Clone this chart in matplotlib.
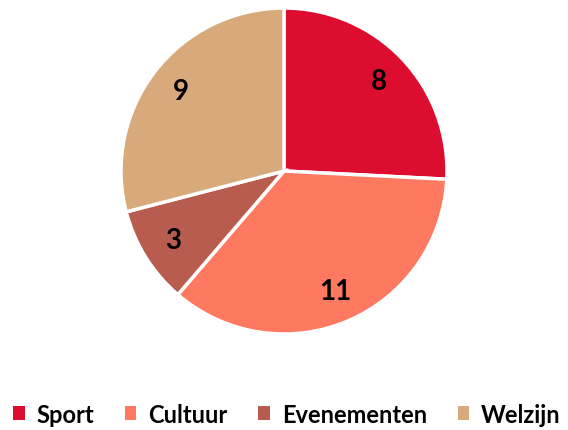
import matplotlib.pyplot as plt
from matplotlib.patches import Patch

categories = ["Sport", "Cultuur", "Evenementen", "Welzijn"]
values = [8, 11, 3, 9]
colors = ["#DC0D2E", "#FF7961", "#B85C50", "#D8A97A"]

plt.rcParams['font.family'] = ['Lato', 'DejaVu Sans']

fig = plt.figure(figsize=(5.68, 4.31), dpi=100)
ax = fig.add_axes([(284 - 163) / 568, (431 - 172 - 163) / 431, 326 / 568, 326 / 431])

wedges, texts, autotexts = ax.pie(
    values, colors=colors, startangle=90, counterclock=False,
    autopct=lambda p: "%d" % round(p * sum(values) / 100.0),
    pctdistance=0.8, radius=1.0,
    wedgeprops=dict(edgecolor="white", linewidth=2.5),
    textprops=dict(fontsize=20, fontweight="bold", color="black"))
ax.set_xlim(-1.0, 1.0)
ax.set_ylim(-1.0, 1.0)
ax.set_aspect("equal")

handles = [Patch(facecolor=c, edgecolor="none") for c in colors]
fig.legend(handles, categories, loc="center", bbox_to_anchor=(0.505, 0.037),
           ncol=4, frameon=False, handlelength=0.5, handleheight=0.5,
           handletextpad=0.5, columnspacing=1.3,
           prop=dict(size=17, weight="bold"))

fig.savefig("out.png", dpi=100)
